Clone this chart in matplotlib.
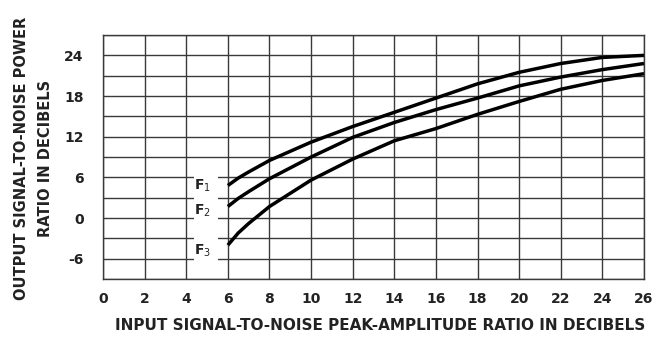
import numpy as np
import matplotlib
matplotlib.use("Agg")
from matplotlib import pyplot as plt
from matplotlib.patches import Rectangle

# Values
x_db = [6, 6.5, 7, 8, 10, 12, 14, 16, 18, 20, 22, 24, 26]
f1 = [4.8, 5.9, 6.8, 8.5, 11.2, 13.5, 15.6, 17.7, 19.8, 21.5, 22.8, 23.7, 24.0]
f2 = [1.7, 2.9, 3.9, 5.8, 9.0, 11.9, 14.1, 16.0, 17.7, 19.5, 20.8, 21.9, 22.8]
f3 = [-4.0, -2.2, -0.8, 1.7, 5.6, 8.7, 11.4, 13.2, 15.3, 17.2, 19.0, 20.3, 21.3]

curve_names = ["F$_1$", "F$_2$", "F$_3$"]
name_pos = [(4.8, 4.75), (4.8, 1.1), (4.8, -4.8)]

x_ticks = list(range(0, 27, 2))
y_ticks = [24, 18, 12, 6, 0, -6]

grid_col = "#3a3a3a"
text_col = "#222222"
plt.rcParams["font.family"] = "DejaVu Sans"

fig = plt.figure(figsize=(6.63, 3.37), dpi=100)
ax = fig.add_axes([0.1554, 0.172, 0.8159, 0.724])

ax.set_xlim(0, 26)
ax.set_ylim(-9, 27)

# grid drawn by hand so every line has the same weight
for gx in range(0, 27, 2):
    ax.axvline(gx, color=grid_col, lw=1.0, zorder=1)
for gy in range(-9, 28, 3):
    ax.axhline(gy, color=grid_col, lw=1.0, zorder=1)

# white gap in the grid where the curve names sit
ax.add_patch(Rectangle((4.35, -7.5), 1.17, 15, facecolor="white",
                       edgecolor="none", zorder=2))

for ys in (f1, f2, f3):
    ax.plot(x_db, ys, color="black", lw=2.5, zorder=4,
            solid_capstyle="butt")

for name, (tx, ty) in zip(curve_names, name_pos):
    ax.text(tx, ty, name, ha="center", va="center", fontsize=10,
            fontweight="bold", color=text_col, zorder=5)

for sp in ax.spines.values():
    sp.set_color(grid_col)
    sp.set_linewidth(1.0)

ax.set_xticks(x_ticks)
ax.set_xticklabels([str(v) for v in x_ticks])
ax.set_yticks(y_ticks)
ax.set_yticklabels([str(v) for v in y_ticks])
ax.tick_params(axis="both", length=0, labelsize=10, colors=text_col)
ax.tick_params(axis="x", pad=9)
ax.tick_params(axis="y", pad=14)
for lab in ax.get_xticklabels() + ax.get_yticklabels():
    lab.set_fontweight("bold")

fig.text(0.574, 0.033, "INPUT SIGNAL-TO-NOISE PEAK-AMPLITUDE RATIO IN DECIBELS",
         ha="center", va="center", fontsize=11, fontweight="bold",
         color=text_col)
fig.text(0.033, 0.53, "OUTPUT SIGNAL-TO-NOISE POWER", rotation=90,
         ha="center", va="center", fontsize=10.5, fontweight="bold",
         color=text_col)
fig.text(0.068, 0.53, "RATIO IN DECIBELS", rotation=90,
         ha="center", va="center", fontsize=10.5, fontweight="bold",
         color=text_col)

fig.savefig("out.png", dpi=100, facecolor="white")
